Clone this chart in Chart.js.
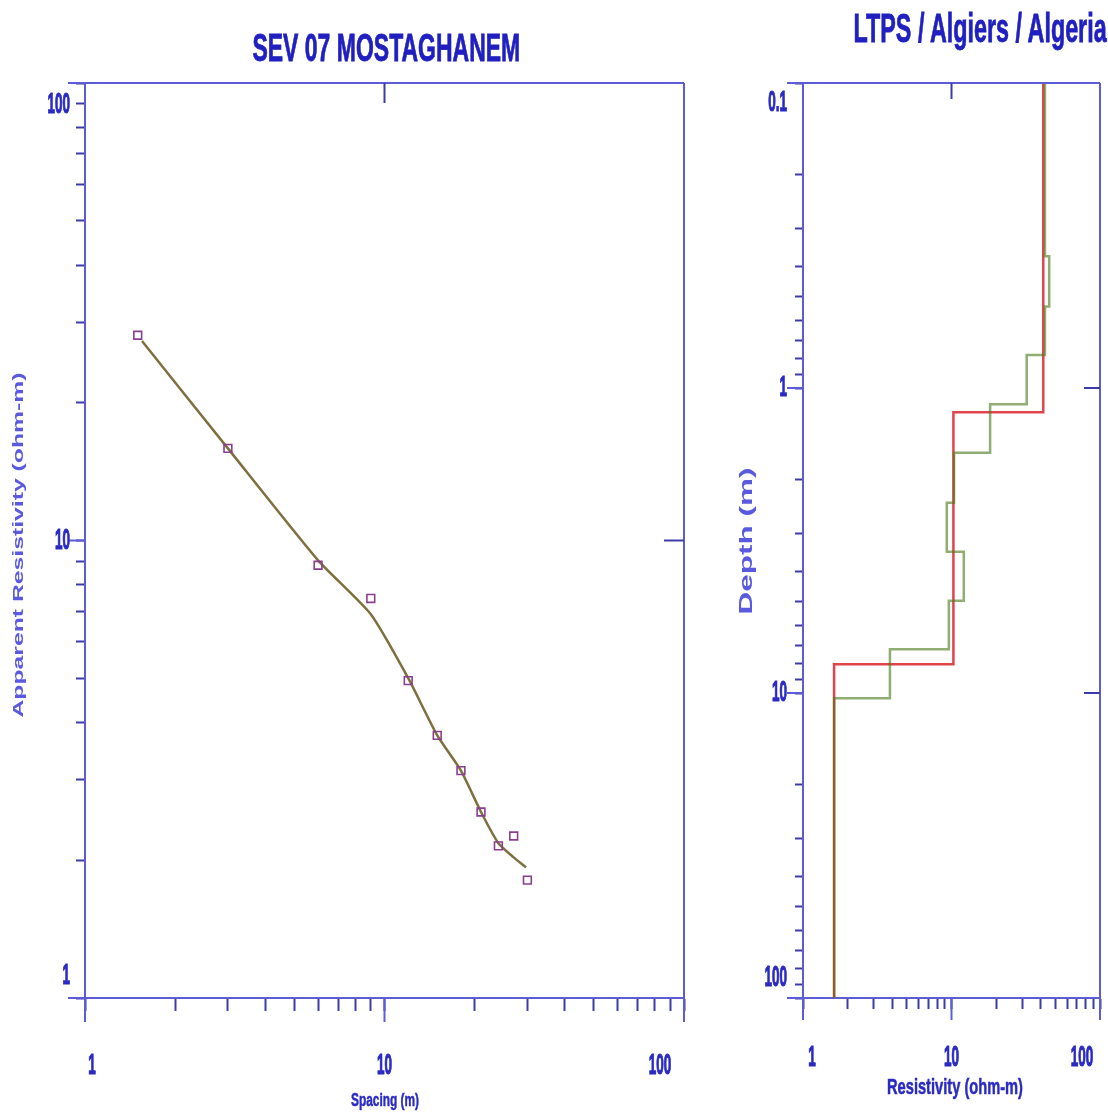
<!DOCTYPE html>
<html><head><meta charset="utf-8">
<script src="https://cdn.jsdelivr.net/npm/chart.js@4.4.0/dist/chart.umd.min.js"></script>
<style>
html,body{margin:0;padding:0;background:#fff;width:1108px;height:1117px;overflow:hidden;}
#wrapL{position:absolute;left:0;top:0;width:700px;height:1117px;}
#wrapR{position:absolute;left:700px;top:0;width:408px;height:1117px;}
.title{position:absolute;white-space:nowrap;font-family:"Liberation Sans Narrow","Liberation Sans",Arial,sans-serif;font-weight:bold;color:#2020c0;line-height:1;transform-origin:center center;-webkit-text-stroke:0.8px #2020c0;}
</style></head><body>
<div id="wrapL"><canvas id="cL" width="700" height="1117"></canvas></div>
<div id="wrapR"><canvas id="cR" width="408" height="1117"></canvas></div>
<div class="title" id="tL">SEV 07 MOSTAGHANEM</div>
<div class="title" id="tR">LTPS / Algiers / Algeria</div>
<script>
// ---------- DATA ----------
// Field data (sounding curve)
const spacing      = [1.5, 3, 6, 9, 12, 15, 18, 21, 24, 27, 30];
const apparentRho  = [28.1, 15.9, 8.83, 7.47, 4.94, 3.75, 3.14, 2.55, 2.15, 2.26, 1.81];
// Computed model response curve
const curveSpacing = [1.55, 3, 6, 9, 12, 15, 18, 21, 24, 27, 29.7];
const curveRho     = [27.3, 15.9, 9.05, 6.9, 5.0, 3.75, 3.14, 2.55, 2.18, 2.03, 1.93];
// Layered model (red): resistivities and layer-bottom depths
const modelRho     = [41.5, 10.3, 1.62];
const modelDepth   = [1.2, 8.05];
// Equivalent model (green)
const eqRho        = [42.6, 45.5, 42.6, 32.1, 18.2, 10.4, 9.3, 12.1, 9.6, 3.85, 1.62];
const eqDepth      = [0.37, 0.54, 0.78, 1.13, 1.63, 2.38, 3.44, 4.98, 7.19, 10.4];
// Tick labels
const leftXTicks  = [1, 10, 100];
const leftYTicks  = [1, 10, 100];
const rightXTicks = [1, 10, 100];
const rightYTicks = [0.1, 1, 10, 100];

// ---------- STYLE ----------
const AX = '#5c5cd8';
const TK = '#3c3ca8';
const TXT = '#2a2ac4';
const FONT = '"Liberation Sans Narrow","Liberation Sans","DejaVu Sans",Arial,sans-serif';

function logTicks(min, max) {
  const out = [];
  let dec = min;
  while (dec < max * 0.999) {
    for (let m = 1; m < 10; m++) out.push(+(dec * m).toPrecision(6));
    dec *= 10;
  }
  out.push(max);
  return out.map(v => ({value: v}));
}

function drawText(ctx, text, x, y, o) {
  ctx.save();
  ctx.font = 'bold ' + o.size + 'px ' + FONT;
  ctx.fillStyle = o.color || TXT;
  ctx.strokeStyle = o.color || TXT;
  ctx.textAlign = o.align || 'center';
  ctx.textBaseline = 'middle';
  let sx = 1;
  if (o.width) sx = o.width / ctx.measureText(text).width;
  else if (o.digitW) sx = o.digitW / ctx.measureText('0').width;
  ctx.translate(x, y);
  if (o.rot) ctx.rotate(o.rot);
  ctx.scale(sx, o.sy || 1);
  ctx.fillText(text, 0, 0);
  if (o.stroke) { ctx.lineWidth = o.stroke; ctx.strokeText(text, 0, 0); }
  ctx.restore();
}

const framePlugin = {
  id: 'frame',
  afterDraw(chart, args, o) {
    const {ctx, chartArea: a, scales} = chart;
    const xs = scales.x, ys = scales.y;
    const line = (x1, y1, x2, y2, c, w) => {
      ctx.beginPath(); ctx.strokeStyle = c; ctx.lineWidth = w;
      ctx.moveTo(x1, y1); ctx.lineTo(x2, y2); ctx.stroke();
    };
    ctx.save();
    // top & right frame
    line(a.left - o.yMajor, a.top, a.right, a.top, AX, 2);
    line(a.right, a.top, a.right, a.bottom + o.xMajor, AX, 2);
    // major ticks
    o.xMajors.forEach(v => { const p = xs.getPixelForValue(v); line(p, a.bottom, p, a.bottom + o.xMajor, AX, 2); });
    o.yMajors.forEach(v => { const p = ys.getPixelForValue(v); line(a.left - o.yMajor, p, a.left, p, AX, 2); });
    // inner ticks
    o.topInner.forEach(v => { const p = xs.getPixelForValue(v); line(p, a.top, p, a.top + o.innerLen, TK, 2); });
    o.rightInner.forEach(v => { const p = ys.getPixelForValue(v); line(a.right - o.innerLen, p, a.right, p, TK, 2); });
    // tick labels
    o.xLabels.forEach(v => {
      let p = xs.getPixelForValue(v);
      p = Math.max(a.left + o.xInsetStart, Math.min(a.right - o.xInsetEnd, p));
      drawText(ctx, String(v), p, o.xLabelY, {size: o.labelSize, digitW: o.digitW, stroke: 1.2});
    });
    o.yLabels.forEach(v => {
      let p = ys.getPixelForValue(v);
      p = Math.max(a.top + o.yInset, Math.min(a.bottom - o.yInset, p));
      drawText(ctx, String(v), o.yLabelX, p, {size: o.labelSize, digitW: o.digitW, align: 'right', stroke: 1.2});
    });
    // axis titles
    const xt = o.xTitle, yt = o.yTitle;
    drawText(ctx, xt.text, xt.x, xt.y, {size: xt.size, width: xt.width, stroke: 0.5});
    drawText(ctx, yt.text, yt.x, yt.y, {size: yt.size, width: yt.width, rot: -Math.PI / 2, color: '#5a5ae0'});
    ctx.restore();
  }
};

function axes(xMin, xMax, yMin, yMax, yWidth, xHeight, xTick, yTick, reverseY) {
  return {
    x: {type: 'logarithmic', min: xMin, max: xMax, position: 'bottom',
        afterBuildTicks: s => { s.ticks = logTicks(xMin, xMax); },
        afterFit: s => { s.height = xHeight; },
        ticks: {display: false},
        grid: {drawOnChartArea: false, drawTicks: true, tickLength: xTick, tickColor: TK, tickWidth: 2},
        border: {display: true, color: AX, width: 2}},
    y: {type: 'logarithmic', min: yMin, max: yMax, position: 'left', reverse: !!reverseY,
        afterBuildTicks: s => { s.ticks = logTicks(yMin, yMax); },
        afterFit: s => { s.width = yWidth; },
        ticks: {display: false},
        grid: {drawOnChartArea: false, drawTicks: true, tickLength: yTick, tickColor: TK, tickWidth: 2},
        border: {display: true, color: AX, width: 2}}
  };
}

// ---------- LEFT CHART ----------
new Chart(document.getElementById('cL'), {
  type: 'scatter',
  data: {datasets: [
    {label: 'Model response', data: curveSpacing.map((s, i) => ({x: s, y: curveRho[i]})),
     showLine: true, borderColor: '#7e6f3e', borderWidth: 2.5, pointRadius: 0,
     tension: 0.2, order: 2},
    {label: 'Field data', data: spacing.map((s, i) => ({x: s, y: apparentRho[i]})),
     showLine: false, pointStyle: 'rect', pointRadius: 5.5, pointBorderColor: '#8a3f8e',
     pointBackgroundColor: 'rgba(255,255,255,0)', pointBorderWidth: 1.6, order: 1}
  ]},
  options: {
    responsive: false, animation: false, events: [],
    layout: {padding: {left: 0, top: 83, right: 16, bottom: 0}},
    plugins: {legend: {display: false}, tooltip: {enabled: false},
      frame: {xMajor: 24, yMajor: 17, xMajors: leftXTicks, yMajors: leftYTicks,
        topInner: [10], rightInner: [10], innerLen: 20,
        xLabels: leftXTicks, yLabels: leftYTicks, xLabelY: 1066, yLabelX: 70,
        xInsetStart: 7, xInsetEnd: 24, yInset: 22, labelSize: 30, digitW: 7.5,
        xTitle: {text: 'Spacing (m)', x: 385, y: 1101, size: 18, width: 68},
        yTitle: {text: 'Apparent Resistivity (ohm-m)', x: 19, y: 545, size: 14, width: 345}}},
    scales: axes(1, 100, 1, 100, 85, 119, 13, 9, false)
  },
  plugins: [framePlugin]
});

// ---------- RIGHT CHART ----------
function stepVertices(rho, bottoms, top, bottom) {
  const pts = []; let d = top;
  rho.forEach((r, i) => {
    const nd = i < bottoms.length ? bottoms[i] : bottom;
    pts.push({x: r, y: d}); pts.push({x: r, y: nd}); d = nd;
  });
  return pts;
}
new Chart(document.getElementById('cR'), {
  type: 'scatter',
  data: {datasets: [
    {label: 'Layered model', data: stepVertices(modelRho, modelDepth, 0.1, 100),
     showLine: true, borderColor: '#e2444c', borderWidth: 2.5, pointRadius: 0, order: 2},
    {label: 'Equivalent model', data: stepVertices(eqRho, eqDepth, 0.1, 100),
     showLine: true, borderColor: 'rgba(70,120,20,0.6)', borderWidth: 2.5, pointRadius: 0, order: 1}
  ]},
  options: {
    responsive: false, animation: false, events: [],
    layout: {padding: {left: 0, top: 83, right: 8, bottom: 0}},
    plugins: {legend: {display: false}, tooltip: {enabled: false},
      frame: {xMajor: 22, yMajor: 16, xMajors: rightXTicks, yMajors: rightYTicks,
        topInner: [10], rightInner: [1, 10], innerLen: 16,
        xLabels: rightXTicks, yLabels: rightYTicks, xLabelY: 1058, yLabelX: 87,
        xInsetStart: 9, xInsetEnd: 18, yInset: 20, labelSize: 30, digitW: 7.5,
        xTitle: {text: 'Resistivity (ohm-m)', x: 255, y: 1088, size: 22, width: 136},
        yTitle: {text: 'Depth (m)', x: 47, y: 541, size: 18, width: 147}}},
    scales: axes(1, 100, 0.1, 100, 103, 119, 11, 8, true)
  },
  plugins: [framePlugin]
});

// ---------- TITLES ----------
function placeTitle(id, cx, cy, size, width) {
  const el = document.getElementById(id);
  el.style.fontSize = size + 'px';
  const w = el.offsetWidth;
  el.style.left = (cx - w / 2) + 'px';
  el.style.top = (cy - size / 2) + 'px';
  el.style.transform = 'scaleX(' + (width / w) + ')';
}
placeTitle('tL', 386, 48, 38, 268);
placeTitle('tR', 980, 28, 40, 253);
</script>
</body></html>
